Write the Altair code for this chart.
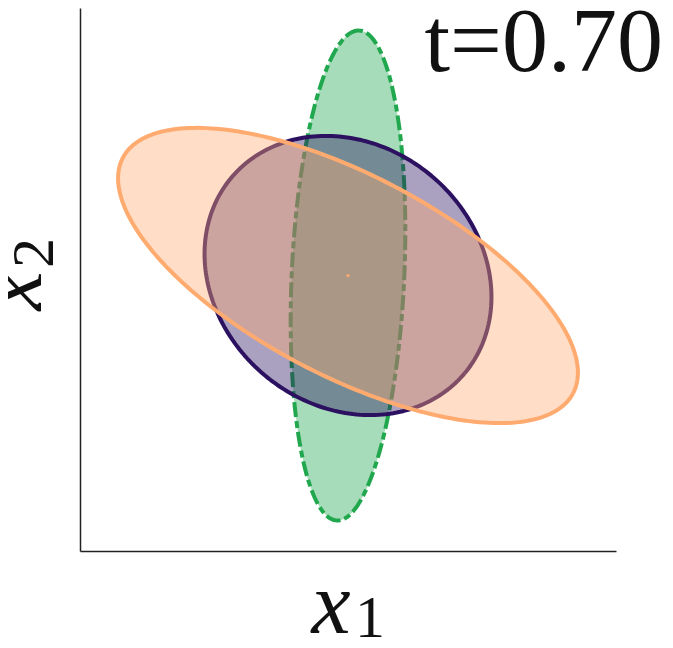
import numpy as np
import pandas as pd
import altair as alt

# Ellipse parameters (data units)
names = ["green", "purple", "orange"]
centers_x = [0.0, 0.0, 0.0]
centers_y = [0.0, 0.0, 0.0]
semi_major = [1.83, 1.136, 1.896]
semi_minor = [0.42, 0.97, 0.75]
angles_deg = [87.4, -40.0, -27.6]
colors = ["#21a84f", "#2b1160", "#ffab70"]

mean_x = [0.0]
mean_y = [0.0]
label_text = "t=0.70"

N = 240
rows = []
for i, name in enumerate(names):
    th = np.deg2rad(angles_deg[i])
    for k in range(N + 1):
        t = 2 * np.pi * k / N
        ex = semi_major[i] * np.cos(t)
        ey = semi_minor[i] * np.sin(t)
        rows.append({
            "name": name,
            "k": k,
            "x": centers_x[i] + ex * np.cos(th) - ey * np.sin(th),
            "y": centers_y[i] + ex * np.sin(th) + ey * np.cos(th),
        })
df = pd.DataFrame(rows)
mean_df = pd.DataFrame({"x": mean_x, "y": mean_y})

xs = alt.Scale(domain=[-2.0, 2.0], nice=False, zero=False)
ys = alt.Scale(domain=[-2.056, 1.996], nice=False, zero=False)
ax = alt.Axis(title=None, labels=False, ticks=False, grid=False,
              domainColor="#222222", domainWidth=1.5)


def ellipse(name, color, dash=None):
    kw = dict(color=color, fill=color, fillOpacity=0.4, strokeWidth=4,
              strokeJoin="round", strokeCap="butt")
    if dash is not None:
        kw["strokeDash"] = dash
    return alt.Chart(df).transform_filter(
        alt.datum.name == name
    ).mark_line(**kw).encode(
        x=alt.X("x:Q", scale=xs, axis=ax),
        y=alt.Y("y:Q", scale=ys, axis=ax),
        order=alt.Order("k:Q"),
    )


green = ellipse("green", colors[0], [15, 4, 7, 4])
purple = ellipse("purple", colors[1])
orange = ellipse("orange", colors[2])

dot = alt.Chart(mean_df).mark_point(filled=True, color=colors[2], size=10, opacity=1).encode(
    x=alt.X("x:Q", scale=xs, axis=ax), y=alt.Y("y:Q", scale=ys, axis=ax)
)

base_txt = alt.Chart(pd.DataFrame({"a": [0]}))
title_txt = base_txt.mark_text(text=label_text, font="Liberation Serif", fontSize=92,
                               align="right", baseline="alphabetic", color="#111111").encode(
    x=alt.value(583), y=alt.value(63))
x1_x = base_txt.mark_text(text="x", font="Liberation Serif", fontStyle="italic", fontSize=88,
                          align="center", baseline="alphabetic", color="#111111").encode(
    x=alt.value(251), y=alt.value(625))
x1_s = base_txt.mark_text(text="1", font="Liberation Serif", fontSize=60,
                          align="center", baseline="alphabetic", color="#111111").encode(
    x=alt.value(290), y=alt.value(629))
x2_x = base_txt.mark_text(text="x", font="Liberation Serif", fontStyle="italic", fontSize=88,
                          align="center", baseline="alphabetic", angle=270, color="#111111").encode(
    x=alt.value(-39), y=alt.value(283))
x2_s = base_txt.mark_text(text="2", font="Liberation Serif", fontSize=60,
                          align="center", baseline="alphabetic", angle=270, color="#111111").encode(
    x=alt.value(-27), y=alt.value(245))

chart = alt.layer(green, purple, orange, dot, title_txt, x1_x, x1_s, x2_x, x2_s).properties(
    width=536, height=543,
    autosize=alt.AutoSizeParams(type="none"),
    padding={"left": 72, "top": 0, "right": 49, "bottom": 89},
).configure_view(stroke=None)

chart.save("out.html", embed_options={"renderer": "svg", "actions": False})
